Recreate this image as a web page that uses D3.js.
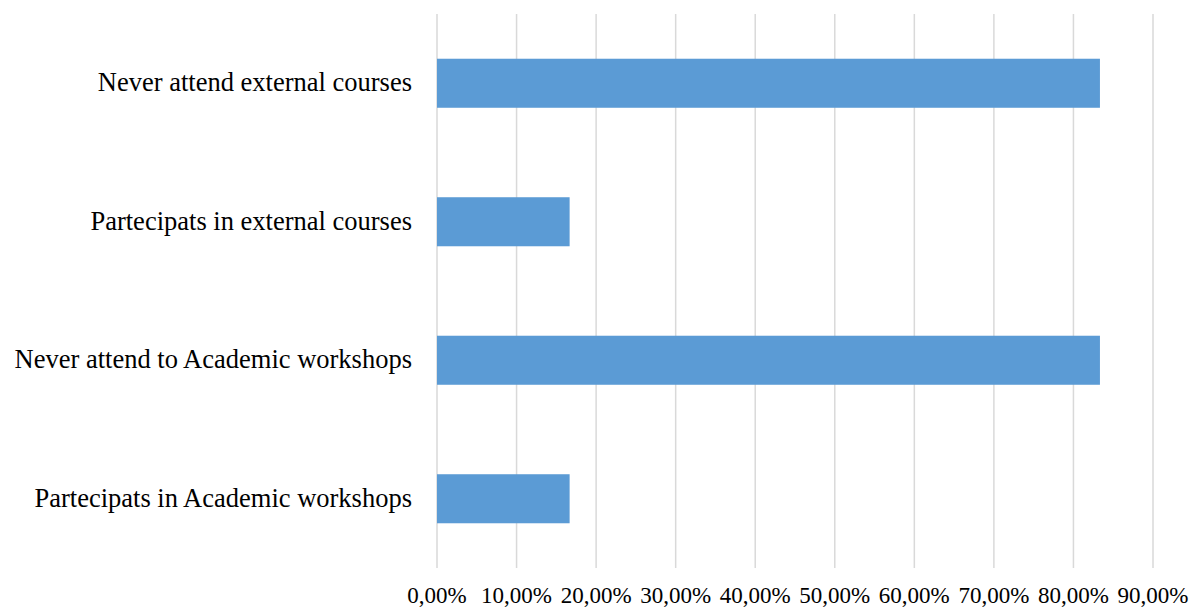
<!DOCTYPE html>
<html><head><meta charset="utf-8">
<script src="https://cdn.jsdelivr.net/npm/d3@7"></script>
<style>body{margin:0;background:#fff}svg{display:block}</style>
</head><body>
<svg id="c" width="1200" height="610"></svg>
<script>
const categories = ["Never attend external courses","Partecipats in external courses","Never attend to Academic workshops","Partecipats in Academic workshops"];
const values = [0.8333, 0.1667, 0.8333, 0.1667];
const ticks = [0,0.1,0.2,0.3,0.4,0.5,0.6,0.7,0.8,0.9];
const tickLabels = ["0,00%","10,00%","20,00%","30,00%","40,00%","50,00%","60,00%","70,00%","80,00%","90,00%"];

(function(){
const svg = d3.select("#c");
const mLeft = 437, mRight = 1153, mTop = 14, mBottom = 568;
const x = d3.scaleLinear().domain([0,0.9]).range([mLeft,mRight]);
const y = d3.scaleBand().domain(categories).range([mTop,mBottom]).paddingInner(0.646).paddingOuter(0.323);
const font = "'Liberation Serif','Times New Roman',serif";

svg.append("g").selectAll("line").data(ticks).join("line")
  .attr("x1",d=>x(d)).attr("x2",d=>x(d)).attr("y1",mTop).attr("y2",mBottom)
  .attr("stroke","#d9d9d9").attr("stroke-width",1.5);

svg.append("g").selectAll("rect").data(values).join("rect")
  .attr("x",x(0)).attr("y",(d,i)=>y(categories[i]))
  .attr("width",d=>x(d)-x(0)).attr("height",y.bandwidth())
  .attr("fill","#5b9bd5");

svg.append("g").selectAll("text").data(categories).join("text")
  .attr("x",412).attr("y",d=>y(d)+y.bandwidth()/2).attr("dy","0.3em")
  .attr("text-anchor","end").attr("font-family",font).attr("font-size",26.5).attr("fill","#000")
  .text(d=>d);

svg.append("g").selectAll("text").data(ticks).join("text")
  .attr("x",d=>x(d)).attr("y",603)
  .attr("text-anchor","middle").attr("font-family",font).attr("font-size",23).attr("fill","#000")
  .text((d,i)=>tickLabels[i]);
})();
</script>
</body></html>
